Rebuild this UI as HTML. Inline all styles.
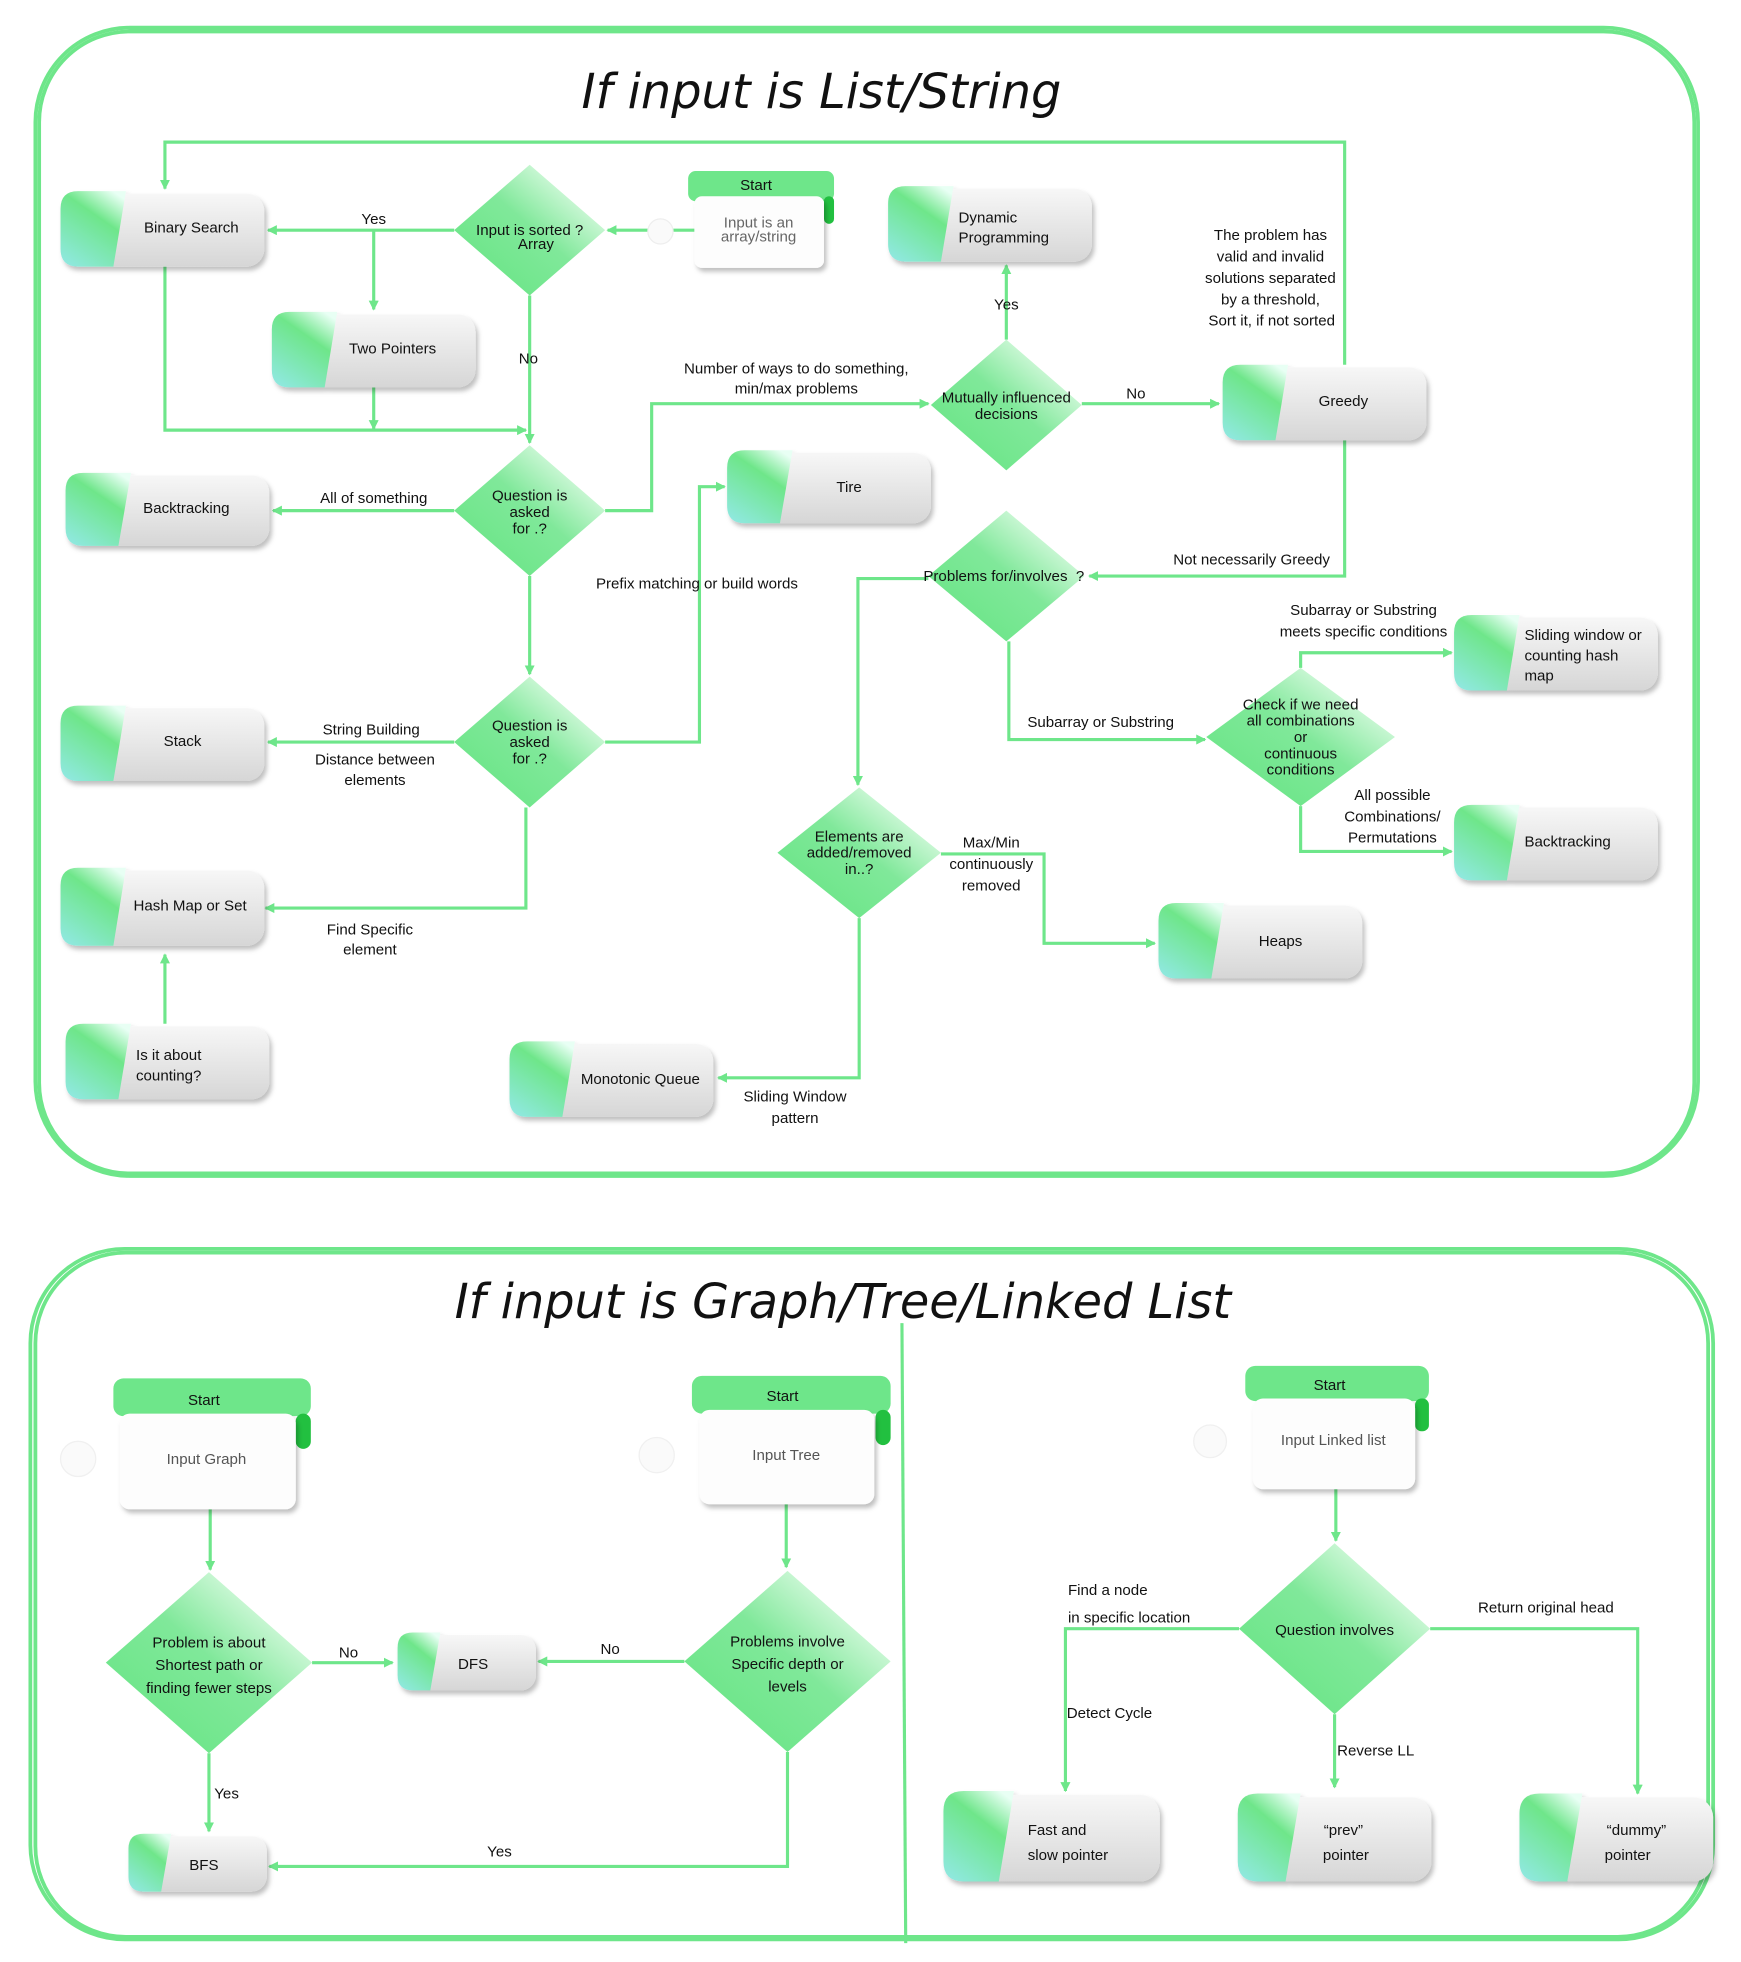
<!DOCTYPE html>
<html><head><meta charset="utf-8"><style>
html,body{margin:0;padding:0;background:#fff;}
svg{display:block;}
text{font-family:"Liberation Sans",sans-serif;fill:#111;}
.t{font-size:12px;text-anchor:middle;}
.tl{font-size:12px;}
.h{font-family:"DejaVu Sans","Liberation Sans",sans-serif;font-size:38px;text-anchor:middle;font-style:italic;}
.ln{stroke:#6ee68a;stroke-width:2.5;fill:none;}
.bx{stroke:#6ee68a;stroke-width:3;fill:none;}
</style></head><body>
<svg width="1741" height="1962" viewBox="0 0 1384 1560" xmlns="http://www.w3.org/2000/svg">
<defs>
<linearGradient id="gb" x1="0" y1="0" x2="0" y2="1"><stop offset="0" stop-color="#f7f7f7"/><stop offset="1" stop-color="#d6d6d6"/></linearGradient>
<linearGradient id="gc" x1="0.8" y1="0" x2="0.2" y2="1"><stop offset="0" stop-color="#e8fff4"/><stop offset="0.35" stop-color="#6ee68a"/><stop offset="1" stop-color="#8ee8dc"/></linearGradient>
<linearGradient id="gd" x1="0.2" y1="0.8" x2="0.9" y2="0.1"><stop offset="0" stop-color="#6ee68a"/><stop offset="0.45" stop-color="#80e89a"/><stop offset="1" stop-color="#f2fff4"/></linearGradient>
<filter id="sh" x="-10%" y="-10%" width="130%" height="140%"><feDropShadow dx="2" dy="3" stdDeviation="2" flood-color="#000" flood-opacity="0.25"/></filter>
<marker id="a" markerWidth="8" markerHeight="8" refX="7" refY="4" orient="auto" markerUnits="userSpaceOnUse"><path d="M0,0 L8,4 L0,8 z" fill="#6ee68a"/></marker>
</defs>

<!-- outer boxes -->
<rect class="bx" x="28" y="22" width="1322" height="913" rx="75"/>
<rect class="bx" x="31" y="25" width="1316" height="908" rx="72" stroke-width="1.5"/>
<rect class="bx" x="24" y="993" width="1338" height="549" rx="75"/>
<rect class="bx" x="28" y="996" width="1330" height="544" rx="72" stroke-width="1.5"/>
<line class="ln" x1="717" y1="1052" x2="720" y2="1545"/>

<text class="h" x="653" y="86">If input is List/String</text>
<text class="h" x="670" y="1048">If input is Graph/Tree/Linked List</text>

<!-- connectors top -->
<g class="ln">
<path d="M552,183 H483" marker-end="url(#a)"/>
<path d="M361,183 H213" marker-end="url(#a)"/>
<path d="M297,183 V246" marker-end="url(#a)"/>
<path d="M131,212 V342 H418" marker-end="url(#a)"/>
<path d="M297,308 V341" marker-end="url(#a)"/>
<path d="M421,235 V352" marker-end="url(#a)"/>
<path d="M1069,290 V113 H131 V150" marker-end="url(#a)"/>
<path d="M361,406 H217" marker-end="url(#a)"/>
<path d="M481,406 H518 V321 H738" marker-end="url(#a)"/>
<path d="M800,270 V211" marker-end="url(#a)"/>
<path d="M860,321 H969" marker-end="url(#a)"/>
<path d="M1069,350 V458 H866" marker-end="url(#a)"/>
<path d="M421,458 V536" marker-end="url(#a)"/>
<path d="M481,590 H556 V387 H576" marker-end="url(#a)"/>
<path d="M361,590 H213" marker-end="url(#a)"/>
<path d="M418,642 V722 H211" marker-end="url(#a)"/>
<path d="M131,814 V759" marker-end="url(#a)"/>
<path d="M738,460 H682 V624" marker-end="url(#a)"/>
<path d="M802,510 V588 H958" marker-end="url(#a)"/>
<path d="M1034,531 V519 H1154" marker-end="url(#a)"/>
<path d="M1034,641 V677 H1154" marker-end="url(#a)"/>
<path d="M748,679 H830 V750 H918" marker-end="url(#a)"/>
<path d="M683,730 V857 H571" marker-end="url(#a)"/>
<!-- bottom -->
<path d="M167,1200 V1248" marker-end="url(#a)"/>
<path d="M248,1322 H312" marker-end="url(#a)"/>
<path d="M166,1394 V1456" marker-end="url(#a)"/>
<path d="M625,1196 V1246" marker-end="url(#a)"/>
<path d="M544,1321 H428" marker-end="url(#a)"/>
<path d="M626,1393 V1484 H214" marker-end="url(#a)"/>
<path d="M1062,1184 V1225" marker-end="url(#a)"/>
<path d="M985,1295 H847 V1424" marker-end="url(#a)"/>
<path d="M1061,1363 V1421" marker-end="url(#a)"/>
<path d="M1137,1295 H1302 V1426" marker-end="url(#a)"/>
</g>

<!-- diamonds -->
<g fill="url(#gd)">
<polygon points="421,131 481,183 421,235 361,183"/>
<polygon points="421,354 481,406 421,458 361,406"/>
<polygon points="421,538 481,590 421,642 361,590"/>
<polygon points="800,270 860,322 800,374 740,322"/>
<polygon points="800,406 862,458 800,510 738,458"/>
<polygon points="1034,531 1109,586 1034,641 959,586"/>
<polygon points="683,626 748,678 683,730 618,678"/>
<polygon points="166,1250 248,1322 166,1394 84,1322"/>
<polygon points="626,1249 708,1321 626,1393 544,1321"/>
<polygon points="1061,1227 1137,1295 1061,1363 985,1295"/>
</g>
<text class="t" x="421" y="187" font-size="10">Input is sorted ?</text>
<text class="t" x="426" y="198">Array</text>
<text class="t" x="421" y="398" font-size="10.5">Question is</text>
<text class="t" x="421" y="411" font-size="10.5">asked</text>
<text class="t" x="421" y="424" font-size="10.5">for .?</text>
<text class="t" x="421" y="581" font-size="10.5">Question is</text>
<text class="t" x="421" y="594" font-size="10.5">asked</text>
<text class="t" x="421" y="607" font-size="10.5">for .?</text>
<text class="t" x="800" y="320" font-size="10.5">Mutually influenced</text>
<text class="t" x="800" y="333" font-size="10.5">decisions</text>
<text class="t" x="798" y="462" font-size="10.5">Problems for/involves&#160; ?</text>
<text class="t" x="1034" y="564" font-size="10">Check if we need</text>
<text class="t" x="1034" y="577" font-size="10">all combinations</text>
<text class="t" x="1034" y="590" font-size="10">or</text>
<text class="t" x="1034" y="603" font-size="10">continuous</text>
<text class="t" x="1034" y="616" font-size="10">conditions</text>
<text class="t" x="683" y="669" font-size="10.5">Elements are</text>
<text class="t" x="683" y="682" font-size="10.5">added/removed</text>
<text class="t" x="683" y="695" font-size="10.5">in..?</text>
<text class="t" x="166" y="1310" font-size="14.5">Problem is about</text>
<text class="t" x="166" y="1328" font-size="14.5">Shortest path or</text>
<text class="t" x="166" y="1346" font-size="14.5">finding fewer steps</text>
<text class="t" x="626" y="1309" font-size="14.5">Problems involve</text>
<text class="t" x="626" y="1327" font-size="14.5">Specific depth or</text>
<text class="t" x="626" y="1345" font-size="14.5">levels</text>
<text class="t" x="1061" y="1300" font-size="13.5">Question involves</text>

<!-- start blocks -->
<g>
<rect x="547" y="136" width="116" height="24" rx="6" fill="#6ee68a"/>
<rect x="655" y="156" width="8" height="22" rx="4" fill="#22c040"/>
<circle cx="525" cy="184" r="10" fill="#fafafa" stroke="#eee"/>
<rect x="552" y="156" width="103" height="57" rx="6" fill="#fdfdfd" filter="url(#sh)"/>
<text class="t" x="601" y="151" font-size="12">Start</text>
<text class="t" x="603" y="181" font-size="9" style="fill:#666">Input is an</text>
<text class="t" x="603" y="192" font-size="9" style="fill:#666">array/string</text>

<rect x="90" y="1096" width="157" height="30" rx="8" fill="#6ee68a"/>
<rect x="235" y="1124" width="12" height="28" rx="6" fill="#22c040"/>
<circle cx="62" cy="1160" r="14" fill="#fafafa" stroke="#f0f0f0"/>
<rect x="95" y="1124" width="140" height="76" rx="8" fill="#fdfdfd" filter="url(#sh)"/>
<text class="t" x="162" y="1117" font-size="16">Start</text>
<text class="t" x="164" y="1164" font-size="12.5" style="fill:#555">Input Graph</text>

<rect x="550" y="1094" width="158" height="30" rx="8" fill="#6ee68a"/>
<rect x="696" y="1121" width="12" height="28" rx="6" fill="#22c040"/>
<circle cx="522" cy="1157" r="14" fill="#fafafa" stroke="#f0f0f0"/>
<rect x="556" y="1121" width="139" height="75" rx="8" fill="#fdfdfd" filter="url(#sh)"/>
<text class="t" x="622" y="1114" font-size="16">Start</text>
<text class="t" x="625" y="1161" font-size="12.5" style="fill:#555">Input Tree</text>

<rect x="990" y="1086" width="146" height="28" rx="8" fill="#6ee68a"/>
<rect x="1125" y="1112" width="11" height="26" rx="5" fill="#22c040"/>
<circle cx="962" cy="1146" r="13" fill="#fafafa" stroke="#f0f0f0"/>
<rect x="996" y="1112" width="129" height="72" rx="8" fill="#fdfdfd" filter="url(#sh)"/>
<text class="t" x="1057" y="1105" font-size="15">Start</text>
<text class="t" x="1060" y="1149" font-size="11.5" style="fill:#555">Input Linked list</text>
</g>

<!-- nodes -->
<g filter="url(#sh)">
<rect x="78" y="154" width="132" height="58" rx="14" fill="url(#gb)"/><path d="M62,152 h38 l-10,60 h-28 q-14,0 -14,-14 v-32 q0,-14 14,-14z" fill="url(#gc)"/>
<rect x="246" y="250" width="132" height="58" rx="14" fill="url(#gb)"/><path d="M230,248 h38 l-10,60 h-28 q-14,0 -14,-14 v-32 q0,-14 14,-14z" fill="url(#gc)"/>
<rect x="82" y="378" width="132" height="56" rx="14" fill="url(#gb)"/><path d="M66,376 h38 l-10,58 h-28 q-14,0 -14,-14 v-30 q0,-14 14,-14z" fill="url(#gc)"/>
<rect x="78" y="563" width="132" height="58" rx="14" fill="url(#gb)"/><path d="M62,561 h38 l-10,60 h-28 q-14,0 -14,-14 v-32 q0,-14 14,-14z" fill="url(#gc)"/>
<rect x="78" y="692" width="132" height="60" rx="14" fill="url(#gb)"/><path d="M62,690 h38 l-10,62 h-28 q-14,0 -14,-14 v-34 q0,-14 14,-14z" fill="url(#gc)"/>
<rect x="82" y="816" width="132" height="58" rx="14" fill="url(#gb)"/><path d="M66,814 h38 l-10,60 h-28 q-14,0 -14,-14 v-32 q0,-14 14,-14z" fill="url(#gc)"/>
<rect x="736" y="150" width="132" height="58" rx="14" fill="url(#gb)"/><path d="M720,148 h38 l-10,60 h-28 q-14,0 -14,-14 v-32 q0,-14 14,-14z" fill="url(#gc)"/>
<rect x="608" y="360" width="132" height="56" rx="14" fill="url(#gb)"/><path d="M592,358 h38 l-10,58 h-28 q-14,0 -14,-14 v-30 q0,-14 14,-14z" fill="url(#gc)"/>
<rect x="1002" y="292" width="132" height="58" rx="14" fill="url(#gb)"/><path d="M986,290 h38 l-10,60 h-28 q-14,0 -14,-14 v-32 q0,-14 14,-14z" fill="url(#gc)"/>
<rect x="1186" y="491" width="132" height="58" rx="14" fill="url(#gb)"/><path d="M1170,489 h38 l-10,60 h-28 q-14,0 -14,-14 v-32 q0,-14 14,-14z" fill="url(#gc)"/>
<rect x="1186" y="642" width="132" height="58" rx="14" fill="url(#gb)"/><path d="M1170,640 h38 l-10,60 h-28 q-14,0 -14,-14 v-32 q0,-14 14,-14z" fill="url(#gc)"/>
<rect x="951" y="720" width="132" height="58" rx="14" fill="url(#gb)"/><path d="M935,718 h38 l-10,60 h-28 q-14,0 -14,-14 v-32 q0,-14 14,-14z" fill="url(#gc)"/>
<rect x="435" y="830" width="132" height="58" rx="14" fill="url(#gb)"/><path d="M419,828 h38 l-10,60 h-28 q-14,0 -14,-14 v-32 q0,-14 14,-14z" fill="url(#gc)"/>
<!-- bottom -->
<rect x="330" y="1300" width="96" height="44" rx="12" fill="url(#gb)"/><path d="M328,1298 h22 l-8,46 h-14 q-12,0 -12,-12 v-22 q0,-12 12,-12z" fill="url(#gc)"/>
<rect x="116" y="1460" width="96" height="44" rx="12" fill="url(#gb)"/><path d="M114,1458 h22 l-8,46 h-14 q-12,0 -12,-12 v-22 q0,-12 12,-12z" fill="url(#gc)"/>
<rect x="780" y="1427" width="142" height="69" rx="16" fill="url(#gb)"/><path d="M766,1424 h40 l-12,72 h-28 q-16,0 -16,-16 v-40 q0,-16 16,-16z" fill="url(#gc)"/>
<rect x="1010" y="1429" width="128" height="67" rx="16" fill="url(#gb)"/><path d="M1000,1426 h34 l-12,70 h-22 q-16,0 -16,-16 v-38 q0,-16 16,-16z" fill="url(#gc)"/>
<rect x="1234" y="1429" width="128" height="67" rx="16" fill="url(#gb)"/><path d="M1224,1426 h34 l-12,70 h-22 q-16,0 -16,-16 v-38 q0,-16 16,-16z" fill="url(#gc)"/>
</g>
<text class="t" x="152" y="185">Binary Search</text>
<text class="t" x="312" y="281">Two Pointers</text>
<text class="t" x="148" y="408">Backtracking</text>
<text class="t" x="145" y="593">Stack</text>
<text class="t" x="151" y="724">Hash Map or Set</text>
<text class="tl" x="108" y="843">Is it about</text>
<text class="tl" x="108" y="859">counting?</text>
<text class="tl" x="762" y="177">Dynamic</text>
<text class="tl" x="762" y="193">Programming</text>
<text class="t" x="675" y="391">Tire</text>
<text class="t" x="1068" y="323">Greedy</text>
<text class="tl" x="1212" y="509">Sliding window or</text>
<text class="tl" x="1212" y="525">counting hash</text>
<text class="tl" x="1212" y="541">map</text>
<text class="tl" x="1212" y="673">Backtracking</text>
<text class="t" x="1018" y="752">Heaps</text>
<text class="t" x="509" y="862">Monotonic Queue</text>
<text class="t" x="376" y="1327" font-size="16">DFS</text>
<text class="t" x="162" y="1487" font-size="16">BFS</text>
<text class="tl" x="817" y="1459" font-size="15.5">Fast and</text>
<text class="tl" x="817" y="1479" font-size="15.5">slow pointer</text>
<text class="t" x="1068" y="1459" font-size="15.5">“prev”</text>
<text class="t" x="1070" y="1479" font-size="15.5">pointer</text>
<text class="t" x="1301" y="1459" font-size="15.5">“dummy”</text>
<text class="t" x="1294" y="1479" font-size="15.5">pointer</text>

<!-- edge labels -->
<g>
<text class="t" x="297" y="178">Yes</text>
<text class="t" x="420" y="289">No</text>
<text class="t" x="297" y="400">All of something</text>
<text class="t" x="633" y="297">Number of ways to do something,</text>
<text class="t" x="633" y="313">min/max problems</text>
<text class="t" x="800" y="246">Yes</text>
<text class="t" x="903" y="317">No</text>
<text class="t" x="1010" y="191">The problem has</text>
<text class="t" x="1010" y="208">valid and invalid</text>
<text class="t" x="1010" y="225">solutions separated</text>
<text class="t" x="1010" y="242">by a threshold,</text>
<text class="t" x="1011" y="259">Sort it, if not sorted</text>
<text class="t" x="995" y="449">Not necessarily Greedy</text>
<text class="t" x="554" y="468">Prefix matching or build words</text>
<text class="t" x="295" y="584">String Building</text>
<text class="t" x="298" y="608">Distance between</text>
<text class="t" x="298" y="624">elements</text>
<text class="t" x="294" y="743">Find Specific</text>
<text class="t" x="294" y="759">element</text>
<text class="t" x="875" y="578">Subarray or Substring</text>
<text class="t" x="1084" y="489">Subarray or Substring</text>
<text class="t" x="1084" y="506">meets specific conditions</text>
<text class="t" x="1107" y="636">All possible</text>
<text class="t" x="1107" y="653">Combinations/</text>
<text class="t" x="1107" y="670">Permutations</text>
<text class="t" x="788" y="674">Max/Min</text>
<text class="t" x="788" y="691">continuously</text>
<text class="t" x="788" y="708">removed</text>
<text class="t" x="632" y="876">Sliding Window</text>
<text class="t" x="632" y="893">pattern</text>
<text class="t" x="277" y="1318" font-size="16">No</text>
<text class="t" x="180" y="1430" font-size="16">Yes</text>
<text class="t" x="485" y="1315" font-size="16">No</text>
<text class="t" x="397" y="1476" font-size="16">Yes</text>
<text class="tl" x="849" y="1268" font-size="15.5">Find a node</text>
<text class="tl" x="849" y="1290" font-size="15.5">in specific location</text>
<text class="tl" x="848" y="1366" font-size="15.5">Detect Cycle</text>
<text class="tl" x="1063" y="1396" font-size="15.5">Reverse LL</text>
<text class="t" x="1229" y="1282" font-size="15.5">Return original head</text>
</g>
</svg>
</body></html>
